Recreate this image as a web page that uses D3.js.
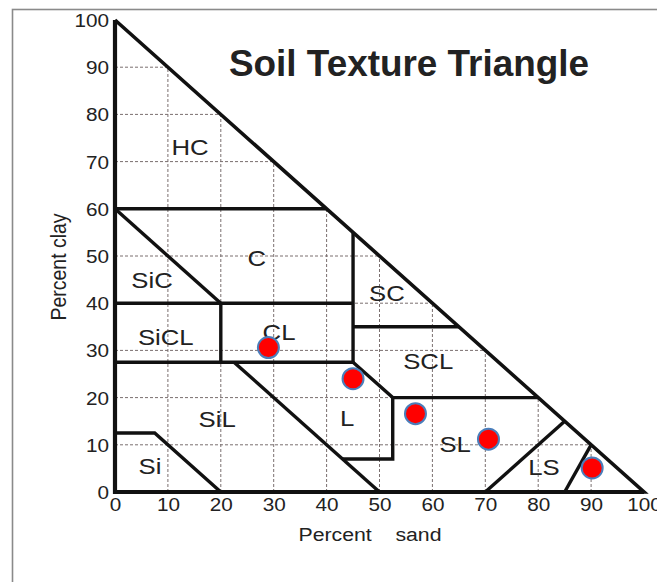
<!DOCTYPE html>
<html>
<head>
<meta charset="utf-8">
<script src="https://cdn.jsdelivr.net/npm/d3@7"></script>
<style>
  body { margin: 0; background: #fff; }
  svg { display: block; }
  text { font-family: "Liberation Sans", Arial, sans-serif; fill: #222; }
</style>
</head>
<body>
<div id="chart"></div>
<script>
// tick values on both axes
var sandTicks = [0, 10, 20, 30, 40, 50, 60, 70, 80, 90, 100];
var clayTicks = [0, 10, 20, 30, 40, 50, 60, 70, 80, 90, 100];

// class boundaries, [sand, clay] pairs
var outline = [[0, 100], [0, 0], [100, 0], [0, 100]];
var boundaries = [
  [[0, 60], [40, 60]],
  [[0, 60], [20, 40]],
  [[0, 40], [45, 40]],
  [[45, 55], [45, 27.5]],
  [[45, 35], [65, 35]],
  [[20, 40], [20, 27.5]],
  [[0, 27.5], [45, 27.5]],
  [[22.5, 27.5], [50, 0]],
  [[45, 27.5], [52.5, 20], [80, 20]],
  [[43, 7], [52.5, 7], [52.5, 20]],
  [[0, 12.5], [7.5, 12.5], [20, 0]],
  [[70, 0], [85, 15]],
  [[85, 0], [90, 10]]
];

// texture class names and where they sit (sand, clay)
var classNames = ["HC", "C", "SiC", "SiCL", "SC", "CL", "SCL", "SiL", "Si", "L", "SL", "LS"];
var classSand  = [14.2, 26.8, 7.0, 9.6, 51.4, 31.0, 59.2, 19.3, 6.6, 43.9, 64.3, 81.1];
var classClay  = [73.1, 49.6, 45.0, 32.8, 42.2, 33.9, 27.8, 15.5, 5.5, 15.7, 10.2, 5.3];

// sample points
var sampleSand = [29, 45, 56.8, 70.6, 90.2];
var sampleClay = [30.6, 24, 16.6, 11.2, 5.1];

var W = 657, H = 582;
var x = d3.scaleLinear().domain([0, 100]).range([115, 644]);
var y = d3.scaleLinear().domain([0, 100]).range([492, 20]);
var sx = 1.12; // picture is a bit stretched sideways

var svg = d3.select("#chart").append("svg")
  .attr("width", W).attr("height", H);

// frame
svg.append("rect")
  .attr("x", 12.5).attr("y", 9.5)
  .attr("width", 800).attr("height", 800)
  .attr("fill", "none").attr("stroke", "#8a8a8a").attr("stroke-width", 1.6);

// dashed grid inside the triangle
var grid = svg.append("g")
  .attr("stroke", "#7a6f6f").attr("stroke-width", 1).attr("stroke-dasharray", "3,2");
clayTicks.filter(c => c > 0 && c < 100).forEach(function(c) {
  grid.append("line")
    .attr("x1", x(0)).attr("x2", x(100 - c))
    .attr("y1", y(c)).attr("y2", y(c));
});
sandTicks.filter(s => s > 0 && s < 100).forEach(function(s) {
  grid.append("line")
    .attr("x1", x(s)).attr("x2", x(s))
    .attr("y1", y(0)).attr("y2", y(100 - s));
});

var line = d3.line().x(d => x(d[0])).y(d => y(d[1]));

svg.selectAll(".bound")
  .data(boundaries)
  .enter().append("path")
  .attr("class", "bound")
  .attr("d", line)
  .attr("fill", "none").attr("stroke", "#111")
  .attr("stroke-width", 3.4).attr("stroke-linejoin", "miter");

svg.append("path")
  .attr("d", line(outline))
  .attr("fill", "none").attr("stroke", "#111")
  .attr("stroke-width", 3.6).attr("stroke-linejoin", "miter");
// heavier axes
svg.append("path")
  .attr("d", line([[0, 100], [0, 0], [100, 0]]))
  .attr("fill", "none").attr("stroke", "#111").attr("stroke-width", 4.2);

// axes (labels only)
var yAxis = svg.append("g")
  .attr("transform", "translate(" + (x(0) - 6) + ",0)")
  .call(d3.axisLeft(y).tickValues(clayTicks).tickSize(0).tickPadding(0));
var xAxis = svg.append("g")
  .attr("transform", "translate(0," + (y(0) + 6) + ")")
  .call(d3.axisBottom(x).tickValues(sandTicks).tickSize(0).tickPadding(0));
[yAxis, xAxis].forEach(function(ax) {
  ax.select(".domain").remove();
  ax.selectAll("text")
    .attr("font-size", 18.5)
    .attr("font-family", "Liberation Sans, Arial, sans-serif")
    .attr("fill", "#3a3a3a");
});
yAxis.selectAll(".tick text")
  .attr("x", 0).attr("dy", "0.35em")
  .attr("transform", "scale(" + sx + ",1)")
  .attr("text-anchor", "end");
xAxis.selectAll(".tick text")
  .attr("y", 0).attr("dy", "0.71em")
  .attr("transform", "scale(" + sx + ",1)");

// axis titles
svg.append("text")
  .attr("transform", "translate(66,267) rotate(-90) scale(1,1.1)")
  .attr("text-anchor", "middle")
  .attr("font-size", 19.5).attr("fill", "#333")
  .text("Percent clay");
svg.append("text")
  .attr("transform", "translate(370,541) scale(" + sx + ",1)")
  .attr("text-anchor", "middle")
  .attr("font-size", 19).attr("fill", "#333")
  .style("white-space", "pre")
  .text("Percent    sand");

// class labels
svg.selectAll(".cls")
  .data(classNames)
  .enter().append("text")
  .attr("class", "cls")
  .attr("transform", (d, i) => "translate(" + x(classSand[i]) + "," + (y(classClay[i]) + 8.3) + ") scale(" + sx + ",1)")
  .attr("text-anchor", "middle")
  .attr("font-size", 23).attr("fill", "#2a2a2a")
  .text(d => d);

// sample points
svg.selectAll(".pt")
  .data(sampleSand)
  .enter().append("circle")
  .attr("class", "pt")
  .attr("cx", d => x(d))
  .attr("cy", (d, i) => y(sampleClay[i]))
  .attr("r", 10.5)
  .attr("fill", "#ff0000")
  .attr("stroke", "#4a7ebb").attr("stroke-width", 2);

// title
svg.append("text")
  .attr("x", 229).attr("y", 76)
  .attr("font-family", "Lato, 'Open Sans', sans-serif")
  .attr("font-weight", "bold")
  .attr("font-size", 37)
  .attr("fill", "#000")
  .attr("textLength", 360).attr("lengthAdjust", "spacingAndGlyphs")
  .text("Soil Texture Triangle");
</script>
</body>
</html>
